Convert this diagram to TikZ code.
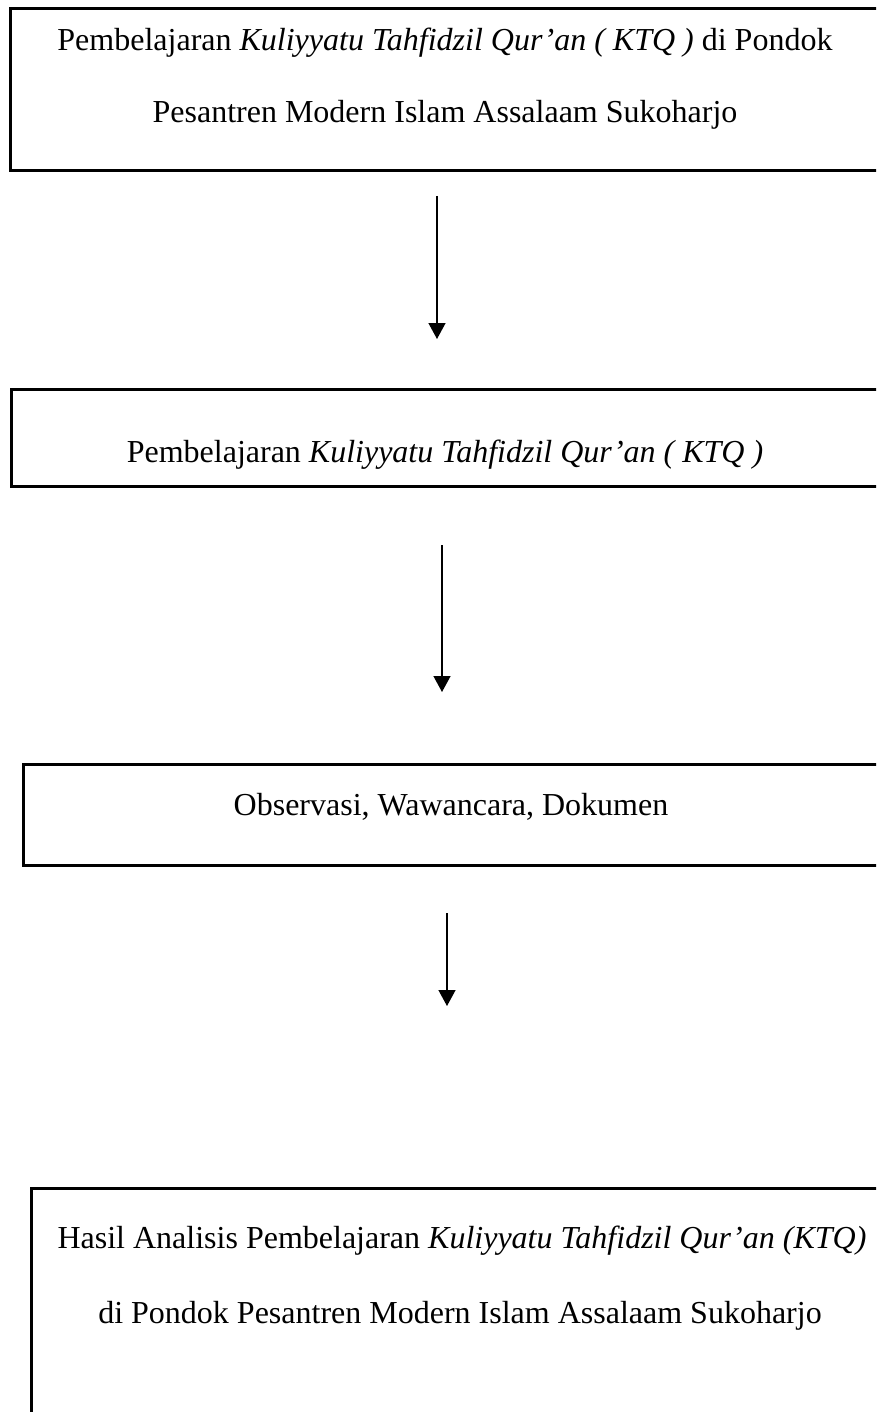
\documentclass[tikz,border=0pt]{standalone}
\usepackage{fontspec}
\setmainfont{Liberation Serif}
\usetikzlibrary{arrows.meta}
\begin{document}
\begin{tikzpicture}[x=1pt,y=-1pt,
  boxst/.style={draw, line width=3pt, rectangle, inner sep=0pt, outer sep=0pt},
  txt/.style={anchor=base, inner sep=0pt, font=\fontsize{32}{38}\selectfont},
  arr/.style={line width=1.4pt, -{Triangle[width=17pt,length=16pt]}}]
\useasboundingbox (0,0) rectangle (876,1412);
\clip (0,0) rectangle (876,1412);
% boxes
\node[boxst, minimum width=880pt, minimum height=162pt] (b1) at (450,90) {};
\node[boxst, minimum width=880pt, minimum height=97pt] (b2) at (451,437.5) {};
\node[boxst, minimum width=880pt, minimum height=101pt] (b3) at (463,814.5) {};
\node[boxst, minimum width=880pt, minimum height=300pt] (b4) at (471,1338) {};
% texts
\node[txt] (t1a) at (445,51) {Pembelajaran \textit{Kuliyyatu Tahfidzil Qur’an ( KTQ )} di Pondok};
\node[txt] (t1b) at (445,123) {Pesantren Modern Islam Assalaam Sukoharjo};
\node[txt] (t2) at (445,462) {Pembelajaran \textit{Kuliyyatu Tahfidzil Qur’an ( KTQ )}};
\node[txt] (t3) at (451,815) {Observasi, Wawancara, Dokumen};
\node[txt] (t4a) at (462,1248) {Hasil Analisis Pembelajaran \textit{Kuliyyatu Tahfidzil Qur’an (KTQ)}};
\node[txt] (t4b) at (460,1323) {di Pondok Pesantren Modern Islam Assalaam Sukoharjo};
% arrows
\coordinate (a1s) at (437,196);
\coordinate (a1e) at (437,339);
\coordinate (a2s) at (442,545);
\coordinate (a2e) at (442,692);
\coordinate (a3s) at (447,913);
\coordinate (a3e) at (447,1006);
\draw[arr] (a1s) -- (a1e);
\draw[arr] (a2s) -- (a2e);
\draw[arr] (a3s) -- (a3e);
\end{tikzpicture}
\end{document}
